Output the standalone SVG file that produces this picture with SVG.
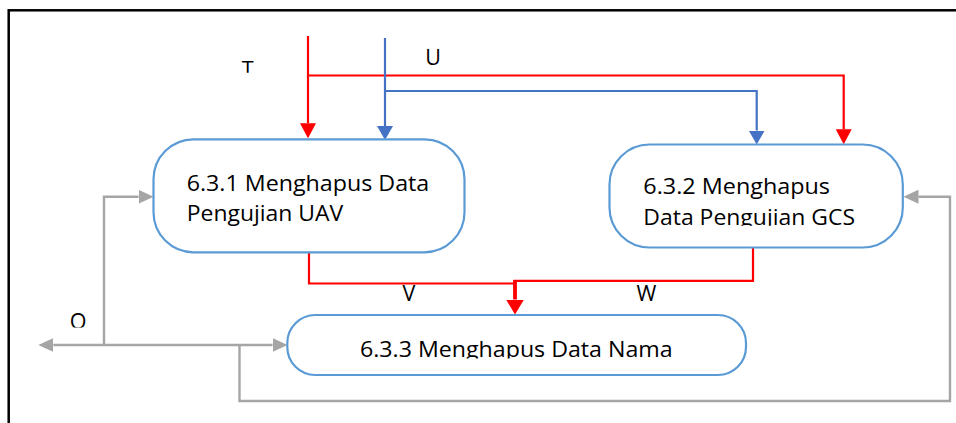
<svg xmlns="http://www.w3.org/2000/svg" width="956" height="423" viewBox="0 0 956 423">
<style>
.node{fill:#ffffff;stroke:#5b9bd5;stroke-width:2.2}
.txt{font-family:"Open Sans","Noto Sans","Liberation Sans",sans-serif;font-size:22.5px;fill:#000000}
.lbl{font-family:"Open Sans","Noto Sans","Liberation Sans",sans-serif;font-size:21.5px;fill:#000000;text-anchor:middle}
.red{fill:none;stroke:#ff0000;stroke-width:2.2}
.blue{fill:none;stroke:#4472c4;stroke-width:2.2}
.gray{fill:none;stroke:#a5a5a5;stroke-width:2.4}
</style>
<defs>
<marker id="aRed" markerUnits="userSpaceOnUse" markerWidth="15" markerHeight="16" viewBox="0 0 15 16" refX="0" refY="8" orient="auto"><path d="M0,0 L15,8 L0,16 Z" fill="#ff0000"/></marker>
<marker id="aRedBig" markerUnits="userSpaceOnUse" markerWidth="15" markerHeight="18" viewBox="0 0 15 18" refX="0" refY="9" orient="auto"><path d="M0,0 L15,9 L0,18 Z" fill="#ff0000"/></marker>
<marker id="aBlue" markerUnits="userSpaceOnUse" markerWidth="14" markerHeight="16" viewBox="0 0 14 16" refX="0" refY="8" orient="auto"><path d="M0,0 L14,8 L0,16 Z" fill="#4472c4"/></marker>
<marker id="aGray" markerUnits="userSpaceOnUse" markerWidth="15" markerHeight="14" viewBox="0 0 15 14" refX="0" refY="7" orient="auto"><path d="M0,0 L15,7 L0,14 Z" fill="#a5a5a5"/></marker>
<clipPath id="clipGcs"><rect x="600" y="140" width="310" height="85.8"/></clipPath>
<clipPath id="clipNama"><rect x="280" y="310" width="470" height="48.5"/></clipPath>
<clipPath id="clipT"><rect x="230" y="50" width="40" height="22.7"/></clipPath>
<clipPath id="clipO"><rect x="60" y="300" width="40" height="27.5"/></clipPath>
</defs>
<rect x="8.7" y="10.3" width="1000" height="500" fill="none" stroke="#000000" stroke-width="2.5"/>
<g id="connectors">
<path class="red" d="M308,36 V123.3" marker-end="url(#aRed)"/>
<path class="red" d="M308,75.5 H843.7 V129.3" marker-end="url(#aRed)"/>
<path class="blue" d="M385,38 V126" marker-end="url(#aBlue)"/>
<path class="blue" d="M385,91 H756.7 V130.5" marker-end="url(#aBlue)"/>
<path class="red" d="M309,252 V283.5 H516"/>
<path class="red" d="M753,248 V280.8 H513.5"/>
<path fill="none" stroke="#ff0000" stroke-width="3.8" d="M515,280 V299.5" marker-end="url(#aRedBig)"/>
<path class="gray" d="M104,345 H53.3" marker-end="url(#aGray)"/>
<path class="gray" d="M104,345 H272.5" marker-end="url(#aGray)"/>
<path class="gray" d="M104,345 V196.7 H138.5" marker-end="url(#aGray)"/>
<path class="gray" d="M239.5,345 V401 H950 V196.7 H918.5" marker-end="url(#aGray)"/>
</g>
<g id="node-631">
<rect class="node" x="153.5" y="139.3" width="311" height="113" rx="40" ry="40"/>
<text class="txt" x="186.7" y="190.5" textLength="242.6" lengthAdjust="spacingAndGlyphs">6.3.1 Menghapus Data</text>
<text class="txt" x="186.7" y="221.3" textLength="156.6" lengthAdjust="spacingAndGlyphs">Pengujian UAV</text>
</g>
<g id="node-632">
<rect class="node" x="609.5" y="144.5" width="293.3" height="103" rx="40" ry="40"/>
<text class="txt" x="643.3" y="194" textLength="186.7" lengthAdjust="spacingAndGlyphs">6.3.2 Menghapus</text>
<text class="txt" x="643.3" y="225" textLength="211.7" lengthAdjust="spacingAndGlyphs" clip-path="url(#clipGcs)">Data Pengujian GCS</text>
</g>
<g id="node-633">
<rect class="node" x="287.3" y="315" width="458.7" height="60" rx="28" ry="28"/>
<text class="txt" x="360" y="357.3" textLength="312.7" lengthAdjust="spacingAndGlyphs" clip-path="url(#clipNama)">6.3.3 Menghapus Data Nama</text>
</g>
<g id="labels">
<text class="lbl" x="247.7" y="77" clip-path="url(#clipT)">T</text>
<text class="lbl" x="433" y="65.3">U</text>
<text class="lbl" x="409" y="300.5">V</text>
<text class="lbl" x="646.5" y="300.5">W</text>
<text class="lbl" x="78" y="329" clip-path="url(#clipO)">O</text>
</g>
</svg>
